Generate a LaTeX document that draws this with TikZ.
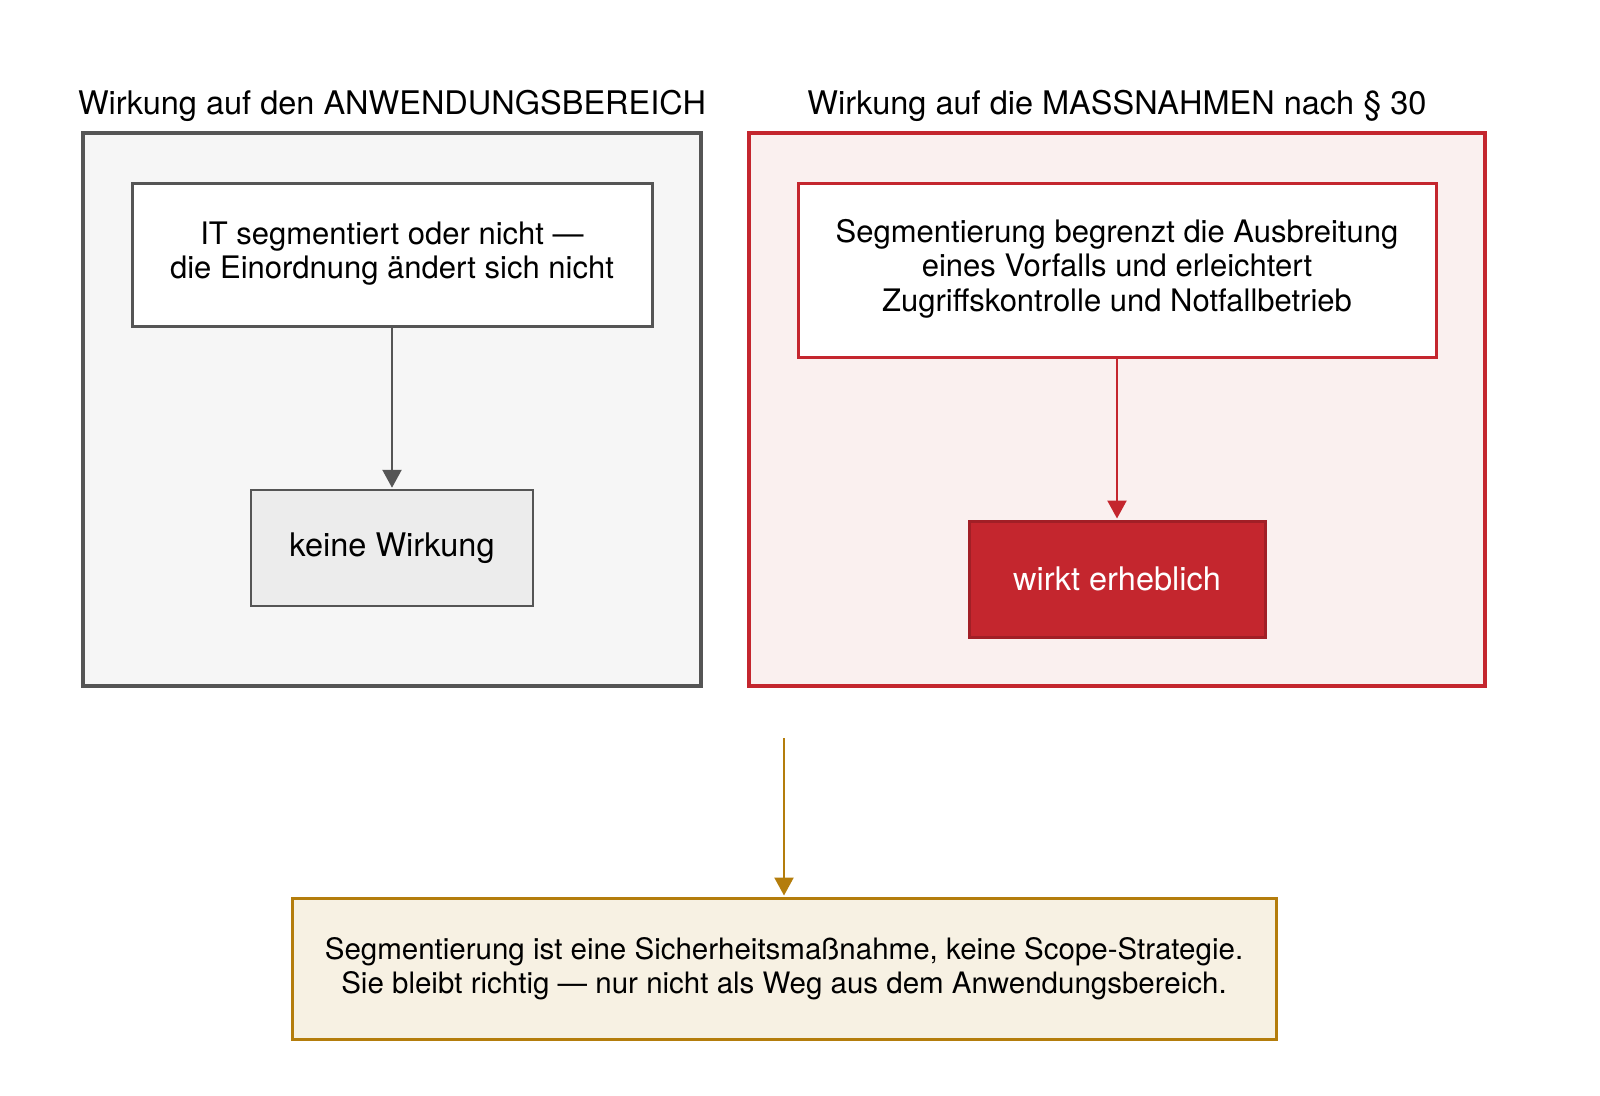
\documentclass[tikz,border=0pt]{standalone}
\usepackage{fontspec}
\setmainfont{TeX Gyre Heros}
\usetikzlibrary{arrows.meta}
\definecolor{gstroke}{HTML}{555555}
\definecolor{gfill}{HTML}{F6F6F6}
\definecolor{gbox}{HTML}{ECECEC}
\definecolor{rstroke}{HTML}{C4262E}
\definecolor{rdark}{HTML}{A11F26}
\definecolor{rfill}{HTML}{FAF0EF}
\definecolor{ostroke}{HTML}{B47D0C}
\definecolor{ofill}{HTML}{F7F1E3}
\tikzset{
  txt/.style={font=\fontsize{31}{34.5}\selectfont, align=center, inner sep=0pt},
  ttl/.style={font=\fontsize{32.5}{36}\selectfont, inner sep=0pt},
  big/.style={font=\fontsize{32.5}{36}\selectfont},
  panel/.style={rectangle, line width=4pt, inner sep=0pt},
  box/.style={rectangle, line width=3pt, inner sep=0pt, txt},
  arr/.style={line width=2.4pt, -{Triangle[length=18pt,width=19pt]}, shorten >=1pt},
}
\begin{document}
\begin{tikzpicture}[x=1pt,y=-1pt]
\useasboundingbox[fill=white] (0,0) rectangle (1600,1095);
% left panel
\node[panel, draw=gstroke, fill=gfill, minimum width=618pt, minimum height=553pt] (lp) at (392,409.5) {};
\node[ttl] (lt) at (392,106) {Wirkung auf den ANWENDUNGSBEREICH};
\node[box, draw=gstroke, fill=white, minimum width=520pt, minimum height=143pt] (la) at (392,254.5) {\raisebox{-4pt}{\begin{tabular}{@{}c@{}}IT segmentiert oder nicht —\\die Einordnung ändert sich nicht\end{tabular}}};
\node[box, big, draw=gstroke, fill=gbox, line width=2.5pt, minimum width=282pt, minimum height=116pt] (lb) at (392,548) {keine Wirkung};
\draw[arr, gstroke] (la) -- (lb);
% right panel
\node[panel, draw=rstroke, fill=rfill, minimum width=736pt, minimum height=553pt] (rp) at (1117,409.5) {};
\node[ttl] (rt) at (1117,106) {Wirkung auf die MASSNAHMEN nach § 30};
\node[box, draw=rstroke, fill=white, minimum width=638pt, minimum height=174pt] (ra) at (1117,270) {\raisebox{-4pt}{\begin{tabular}{@{}c@{}}Segmentierung begrenzt die Ausbreitung\\eines Vorfalls und erleichtert\\Zugriffskontrolle und Notfallbetrieb\end{tabular}}};
\node[box, big, draw=rdark, fill=rstroke, text=white, minimum width=296pt, minimum height=116pt] (rb) at (1117,579) {wirkt erheblich};
\draw[arr, rstroke] (ra) -- (rb);
% bottom
\coordinate (start) at (784,738);
\node[box, font=\fontsize{29.5}{34}\selectfont, draw=ostroke, fill=ofill, line width=3pt, minimum width=984pt, minimum height=141pt] (bt) at (784,968.5) {Segmentierung ist eine Sicherheitsmaßnahme, keine Scope-Strategie.\\Sie bleibt richtig — nur nicht als Weg aus dem Anwendungsbereich.};
\draw[arr, ostroke] (start) -- (bt.north -| start);
\end{tikzpicture}
\end{document}
